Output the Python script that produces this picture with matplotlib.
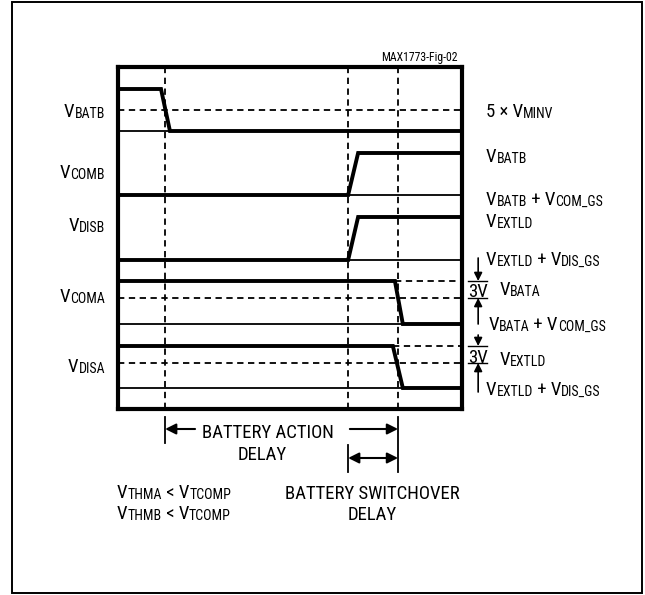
import matplotlib
matplotlib.use("Agg")
import matplotlib.pyplot as plt
from matplotlib.patches import Rectangle

plt.rcParams['font.family'] = ['Roboto Condensed', 'Roboto', 'DejaVu Sans']

# Escala de tiempo del diagrama (unidades arbitrarias, caja = 0..10)
t_lim = (0, 10)
y_lim = (0, 34.2)

# Instantes de referencia (líneas verticales discontinuas)
t_marcas = [1.37, 6.69, 8.14]

# Niveles de cada señal: alto, umbral, bajo
nombres = ["BATB", "COMB", "DISB", "COMA", "DISA"]
nivel_alto = [32.0, 25.6, 19.2, 12.8, 6.3]
nivel_umbral = [29.9, None, None, 11.1, 4.6]
nivel_bajo = [27.8, 21.4, 14.9, 8.5, 2.1]

# Formas de onda (tiempo, nivel)
batb_t = [0, 1.25, 1.51, 10]
batb_v = [32.0, 32.0, 27.8, 27.8]
comb_t = [0, 6.69, 6.98, 10]
comb_v = [21.4, 21.4, 25.6, 25.6]
disb_t = [0, 6.69, 6.98, 10]
disb_v = [14.9, 14.9, 19.2, 19.2]
coma_t = [0, 8.05, 8.28, 10]
coma_v = [12.8, 12.8, 8.5, 8.5]
disa_t = [0, 7.99, 8.28, 10]
disa_v = [6.3, 6.3, 2.1, 2.1]
ondas = [(batb_t, batb_v), (comb_t, comb_v), (disb_t, disb_v),
         (coma_t, coma_v), (disa_t, disa_v)]

# Etiquetas de la izquierda y de la derecha
etiq_izq = [[("V", 0), ("BATB", 1)], [("V", 0), ("COMB", 1)], [("V", 0), ("DISB", 1)],
            [("V", 0), ("COMA", 1)], [("V", 0), ("DISA", 1)]]
etiq_izq_y = [28.8, 22.7, 17.4, 10.3, 3.3]

etiq_der = [
    [("5 × V", 0), ("MINV", 1)],
    [("V", 0), ("BATB", 1)],
    [("V", 0), ("BATB", 1), (" + V", 0), ("COM_GS", 1)],
    [("V", 0), ("EXTLD", 1)],
    [("V", 0), ("EXTLD", 1), (" + V", 0), ("DIS_GS", 1)],
    [("V", 0), ("BATA", 1)],
    [("V", 0), ("BATA", 1), (" + V", 0), ("COM_GS", 1)],
    [("V", 0), ("EXTLD", 1)],
    [("V", 0), ("EXTLD", 1), (" + V", 0), ("DIS_GS", 1)],
]
etiq_der_x = [10.70, 10.70, 10.70, 10.70, 10.70, 11.10, 10.76, 11.10, 10.70]
etiq_der_y = [28.8, 24.3, 20.0, 17.8, 14.0, 11.0, 7.5, 4.0, 1.0]

# Marcas de 3V: inicio de la flecha descendente y final de la ascendente
tresv_arriba = [15.1, 7.4]
tresv_abajo = [8.5, 1.7]

negro = "black"
grueso = 2.8
fino = 1.3
discontinua = (0, (3.5, 2.5))
tam = 13.5

fig = plt.figure(figsize=(6.45, 5.95), dpi=100)
fig.patches.append(Rectangle((12 / 645, 2 / 595), 630 / 645, 591 / 595,
                             transform=fig.transFigure, fill=False,
                             edgecolor=negro, lw=1.4))

ax = fig.add_axes([118 / 645, 186 / 595, 344 / 645, 342 / 595])
ax.set_xlim(*t_lim)
ax.set_ylim(*y_lim)
ax.set_xticks([])
ax.set_yticks([])
for s in ax.spines.values():
    s.set_linewidth(3)


def etiqueta(x, y, partes, ha='left', size=tam):
    # dibuja texto con subíndices encadenando trozos
    orden = partes if ha == 'left' else partes[::-1]
    prev = None
    for texto, sub in orden:
        fs = size * 0.74 if sub else size
        if prev is None:
            prev = ax.text(x, y, texto, ha=ha, va='bottom', fontsize=fs)
        else:
            xy = (1, 0) if ha == 'left' else (0, 0)
            prev = ax.annotate(texto, xy=xy, xycoords=prev, ha=ha,
                               va='bottom', fontsize=fs)
    return prev


def flecha(desde, hasta, estilo='-|>', escala=16, lw=1.5):
    ax.annotate('', xy=hasta, xytext=desde, annotation_clip=False,
                arrowprops=dict(arrowstyle=estilo, color=negro, lw=lw,
                                mutation_scale=escala, shrinkA=0, shrinkB=0))


# Líneas de referencia
for i in range(len(nombres)):
    ax.plot(t_lim, [nivel_bajo[i]] * 2, color=negro, lw=fino)
    if nivel_umbral[i] is not None:
        ax.plot(t_lim, [nivel_umbral[i]] * 2, color=negro, lw=fino, ls=discontinua)

# Nivel alto discontinuo tras la caída de COMA y DISA
ax.plot([coma_t[1], 10], [nivel_alto[3]] * 2, color=negro, lw=fino, ls=discontinua)
ax.plot([disa_t[1], 10], [nivel_alto[4]] * 2, color=negro, lw=fino, ls=discontinua)

for t in t_marcas:
    ax.plot([t, t], y_lim, color=negro, lw=fino, ls=discontinua)

# Formas de onda
for t, v in ondas:
    ax.plot(t, v, color=negro, lw=grueso, solid_joinstyle='miter', solid_capstyle='butt')

# Etiquetas
for partes, y in zip(etiq_izq, etiq_izq_y):
    etiqueta(-0.38, y, partes, ha='right')
for partes, x, y in zip(etiq_der, etiq_der_x, etiq_der_y):
    etiqueta(x, y, partes)

ax.text(9.88, 34.5, "MAX1773-Fig-02", ha='right', va='bottom', fontsize=8.5)

# Marcas de 3V
for alto, umbral, y_txt, y0, y1 in zip(nivel_alto[3:], nivel_umbral[3:], [10.8, 4.2],
                                        tresv_arriba, tresv_abajo):
    for y in (alto, umbral):
        ax.plot([10.17, 10.73], [y, y], color=negro, lw=1.0, clip_on=False)
    ax.text(10.19, y_txt, "3V", ha='left', va='bottom', fontsize=tam)
    flecha((10.47, y0), (10.47, alto), escala=12, lw=1.2)
    flecha((10.47, y1), (10.47, umbral), escala=12, lw=1.2)

# Cotas de retardo debajo de la caja
ax.plot([t_marcas[0]] * 2, [-0.8, -3.4], color=negro, lw=fino, clip_on=False)
ax.plot([t_marcas[1]] * 2, [-3.6, -6.3], color=negro, lw=fino, clip_on=False)
ax.plot([t_marcas[2]] * 2, [-0.8, -6.3], color=negro, lw=fino, clip_on=False)

flecha((2.24, -2.0), (t_marcas[0], -2.0))
flecha((6.74, -2.0), (t_marcas[2], -2.0))
flecha((t_marcas[1], -4.9), (t_marcas[2], -4.9), estilo='<|-|>')

ax.text(4.36, -3.3, "BATTERY ACTION", ha='center', va='bottom', fontsize=tam)
ax.text(4.19, -5.5, "DELAY", ha='center', va='bottom', fontsize=tam)
ax.text(7.38, -9.4, "BATTERY SWITCHOVER", ha='center', va='bottom', fontsize=tam)
ax.text(7.38, -11.5, "DELAY", ha='center', va='bottom', fontsize=tam)

etiqueta(-0.03, -9.3, [("V", 0), ("THMA", 1), (" < V", 0), ("TCOMP", 1)])
etiqueta(-0.03, -11.4, [("V", 0), ("THMB", 1), (" < V", 0), ("TCOMP", 1)])

fig.savefig("out.png", dpi=100)
